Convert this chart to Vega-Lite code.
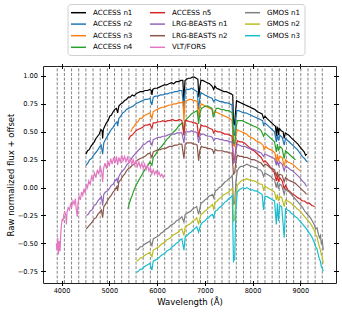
{
"$schema":"https://vega.github.io/schema/vega-lite/v6.json",
"width":293,"height":217,"autosize":"none",
"padding":{"left":43,"top":66,"right":6,"bottom":30},
"config":{"font":"DejaVu Sans","view":{"stroke":"#222","strokeWidth":1},
"axis":{"domain":false,"grid":false,"tickColor":"#000","tickSize":5,"offset":-2.5,"labelFontSize":6.6,"labelColor":"#000","labelOverlap":false,"labelFlush":false,"titleFontSize":8.5,"titleColor":"#000","titleFontWeight":"normal","labelFont":"DejaVu Sans","titleFont":"DejaVu Sans"}},
"datasets":{
"bins":[{"w":3910},{"w":4060},{"w":4210},{"w":4360},{"w":4510},{"w":4660},{"w":4810},{"w":4960},{"w":5110},{"w":5260},{"w":5410},{"w":5560},{"w":5710},{"w":5860},{"w":6010},{"w":6160},{"w":6310},{"w":6460},{"w":6610},{"w":6760},{"w":6910},{"w":7060},{"w":7210},{"w":7360},{"w":7510},{"w":7660},{"w":7810},{"w":7960},{"w":8110},{"w":8260},{"w":8410},{"w":8560},{"w":8710},{"w":8860},{"w":9010},{"w":9160},{"w":9310},{"w":9460}],
"a1":[{"w":4510,"f":0.30},{"w":4545,"f":0.33},{"w":4580,"f":0.34},{"w":4615,"f":0.37},{"w":4650,"f":0.39},{"w":4685,"f":0.41},{"w":4720,"f":0.44},{"w":4755,"f":0.46},{"w":4790,"f":0.48},{"w":4825,"f":0.52},{"w":4850,"f":0.51},{"w":4861,"f":0.44},{"w":4875,"f":0.52},{"w":4905,"f":0.55},{"w":4940,"f":0.58},{"w":4975,"f":0.60},{"w":5010,"f":0.64},{"w":5045,"f":0.65},{"w":5080,"f":0.68},{"w":5115,"f":0.70},{"w":5150,"f":0.71},{"w":5175,"f":0.67},{"w":5200,"f":0.73},{"w":5240,"f":0.75},{"w":5280,"f":0.76},{"w":5320,"f":0.78},{"w":5360,"f":0.79},{"w":5400,"f":0.81},{"w":5440,"f":0.81},{"w":5480,"f":0.83},{"w":5520,"f":0.82},{"w":5560,"f":0.84},{"w":5600,"f":0.85},{"w":5650,"f":0.86},{"w":5700,"f":0.86},{"w":5750,"f":0.87},{"w":5800,"f":0.87},{"w":5850,"f":0.88},{"w":5880,"f":0.87},{"w":5893,"f":0.83},{"w":5910,"f":0.88},{"w":5950,"f":0.89},{"w":6000,"f":0.89},{"w":6050,"f":0.90},{"w":6100,"f":0.91},{"w":6150,"f":0.92},{"w":6200,"f":0.92},{"w":6250,"f":0.93},{"w":6300,"f":0.94},{"w":6350,"f":0.93},{"w":6400,"f":0.95},{"w":6450,"f":0.95},{"w":6500,"f":0.96},{"w":6540,"f":0.96},{"w":6563,"f":0.77},{"w":6585,"f":0.96},{"w":6620,"f":0.97},{"w":6660,"f":0.98},{"w":6700,"f":0.98},{"w":6740,"f":0.99},{"w":6780,"f":0.99},{"w":6820,"f":0.98},{"w":6855,"f":0.97},{"w":6875,"f":0.81},{"w":6895,"f":0.90},{"w":6920,"f":0.96},{"w":6960,"f":0.96},{"w":7000,"f":0.95},{"w":7050,"f":0.94},{"w":7100,"f":0.93},{"w":7150,"f":0.91},{"w":7185,"f":0.88},{"w":7210,"f":0.91},{"w":7250,"f":0.89},{"w":7300,"f":0.88},{"w":7350,"f":0.87},{"w":7400,"f":0.86},{"w":7450,"f":0.86},{"w":7500,"f":0.85},{"w":7550,"f":0.84},{"w":7585,"f":0.83},{"w":7600,"f":0.58},{"w":7620,"f":0.56},{"w":7640,"f":0.66},{"w":7665,"f":0.78},{"w":7700,"f":0.77},{"w":7750,"f":0.76},{"w":7800,"f":0.75},{"w":7850,"f":0.74},{"w":7900,"f":0.73},{"w":7950,"f":0.72},{"w":8000,"f":0.71},{"w":8050,"f":0.70},{"w":8100,"f":0.68},{"w":8150,"f":0.67},{"w":8200,"f":0.66},{"w":8230,"f":0.62},{"w":8260,"f":0.64},{"w":8300,"f":0.62},{"w":8350,"f":0.60},{"w":8400,"f":0.58},{"w":8450,"f":0.56},{"w":8480,"f":0.55},{"w":8498,"f":0.46},{"w":8515,"f":0.54},{"w":8530,"f":0.53},{"w":8542,"f":0.47},{"w":8560,"f":0.53},{"w":8600,"f":0.51},{"w":8640,"f":0.50},{"w":8662,"f":0.44},{"w":8685,"f":0.49},{"w":8720,"f":0.48},{"w":8760,"f":0.47},{"w":8800,"f":0.45},{"w":8850,"f":0.43},{"w":8900,"f":0.41},{"w":8950,"f":0.39},{"w":9000,"f":0.36},{"w":9040,"f":0.34},{"w":9080,"f":0.32},{"w":9110,"f":0.29},{"w":9140,"f":0.30}],
"a2":[{"w":4510,"f":0.20},{"w":4550,"f":0.22},{"w":4590,"f":0.25},{"w":4630,"f":0.26},{"w":4670,"f":0.29},{"w":4710,"f":0.31},{"w":4750,"f":0.33},{"w":4790,"f":0.36},{"w":4830,"f":0.38},{"w":4861,"f":0.30},{"w":4885,"f":0.40},{"w":4920,"f":0.43},{"w":4960,"f":0.46},{"w":5000,"f":0.49},{"w":5040,"f":0.52},{"w":5080,"f":0.54},{"w":5120,"f":0.57},{"w":5160,"f":0.59},{"w":5175,"f":0.55},{"w":5200,"f":0.62},{"w":5240,"f":0.64},{"w":5280,"f":0.67},{"w":5320,"f":0.68},{"w":5360,"f":0.70},{"w":5400,"f":0.71},{"w":5450,"f":0.72},{"w":5500,"f":0.73},{"w":5550,"f":0.75},{"w":5600,"f":0.76},{"w":5650,"f":0.77},{"w":5700,"f":0.78},{"w":5750,"f":0.79},{"w":5800,"f":0.79},{"w":5850,"f":0.80},{"w":5893,"f":0.74},{"w":5920,"f":0.81},{"w":5970,"f":0.82},{"w":6020,"f":0.82},{"w":6070,"f":0.83},{"w":6120,"f":0.83},{"w":6170,"f":0.84},{"w":6220,"f":0.84},{"w":6270,"f":0.85},{"w":6320,"f":0.85},{"w":6370,"f":0.86},{"w":6420,"f":0.86},{"w":6470,"f":0.87},{"w":6520,"f":0.87},{"w":6563,"f":0.70},{"w":6590,"f":0.87},{"w":6630,"f":0.88},{"w":6680,"f":0.88},{"w":6720,"f":0.89},{"w":6760,"f":0.88},{"w":6800,"f":0.87},{"w":6840,"f":0.86},{"w":6870,"f":0.70},{"w":6895,"f":0.80},{"w":6920,"f":0.85},{"w":6960,"f":0.84},{"w":7000,"f":0.83},{"w":7050,"f":0.82},{"w":7100,"f":0.81},{"w":7150,"f":0.80},{"w":7185,"f":0.77},{"w":7220,"f":0.79},{"w":7270,"f":0.78},{"w":7320,"f":0.77},{"w":7370,"f":0.77},{"w":7420,"f":0.76},{"w":7470,"f":0.76},{"w":7520,"f":0.75},{"w":7570,"f":0.74},{"w":7600,"f":0.48},{"w":7625,"f":0.47},{"w":7645,"f":0.60},{"w":7670,"f":0.69},{"w":7710,"f":0.69},{"w":7760,"f":0.68},{"w":7810,"f":0.67},{"w":7860,"f":0.67},{"w":7910,"f":0.66},{"w":7960,"f":0.65},{"w":8010,"f":0.64},{"w":8060,"f":0.63},{"w":8110,"f":0.62},{"w":8160,"f":0.61},{"w":8210,"f":0.60},{"w":8230,"f":0.56},{"w":8260,"f":0.58},{"w":8310,"f":0.56},{"w":8360,"f":0.54},{"w":8410,"f":0.52},{"w":8460,"f":0.50},{"w":8498,"f":0.41},{"w":8520,"f":0.48},{"w":8542,"f":0.42},{"w":8570,"f":0.47},{"w":8620,"f":0.45},{"w":8662,"f":0.38},{"w":8690,"f":0.44},{"w":8740,"f":0.42},{"w":8790,"f":0.40},{"w":8840,"f":0.38},{"w":8890,"f":0.36},{"w":8940,"f":0.34},{"w":8990,"f":0.31},{"w":9040,"f":0.28},{"w":9090,"f":0.26},{"w":9140,"f":0.23}],
"a3":[{"w":5450,"f":0.50},{"w":5480,"f":0.53},{"w":5520,"f":0.55},{"w":5560,"f":0.58},{"w":5600,"f":0.59},{"w":5640,"f":0.62},{"w":5680,"f":0.62},{"w":5720,"f":0.64},{"w":5760,"f":0.65},{"w":5800,"f":0.66},{"w":5850,"f":0.67},{"w":5893,"f":0.62},{"w":5920,"f":0.68},{"w":5960,"f":0.69},{"w":6000,"f":0.70},{"w":6050,"f":0.71},{"w":6100,"f":0.72},{"w":6150,"f":0.72},{"w":6200,"f":0.73},{"w":6250,"f":0.74},{"w":6300,"f":0.74},{"w":6350,"f":0.75},{"w":6400,"f":0.75},{"w":6450,"f":0.76},{"w":6500,"f":0.76},{"w":6540,"f":0.77},{"w":6563,"f":0.60},{"w":6585,"f":0.77},{"w":6630,"f":0.78},{"w":6680,"f":0.79},{"w":6720,"f":0.79},{"w":6760,"f":0.78},{"w":6800,"f":0.78},{"w":6840,"f":0.77},{"w":6870,"f":0.62},{"w":6895,"f":0.72},{"w":6930,"f":0.75},{"w":6970,"f":0.74},{"w":7010,"f":0.73},{"w":7060,"f":0.72},{"w":7110,"f":0.71},{"w":7160,"f":0.70},{"w":7185,"f":0.66},{"w":7220,"f":0.68},{"w":7270,"f":0.67},{"w":7320,"f":0.66},{"w":7370,"f":0.65},{"w":7420,"f":0.64},{"w":7470,"f":0.63},{"w":7520,"f":0.62},{"w":7570,"f":0.60},{"w":7600,"f":0.38},{"w":7625,"f":0.37},{"w":7650,"f":0.46},{"w":7680,"f":0.52},{"w":7720,"f":0.51},{"w":7770,"f":0.50},{"w":7820,"f":0.49},{"w":7870,"f":0.48},{"w":7920,"f":0.46},{"w":7970,"f":0.45},{"w":8020,"f":0.44},{"w":8070,"f":0.42},{"w":8120,"f":0.41},{"w":8170,"f":0.40},{"w":8220,"f":0.38},{"w":8240,"f":0.34},{"w":8270,"f":0.37},{"w":8320,"f":0.35},{"w":8370,"f":0.34},{"w":8420,"f":0.33},{"w":8470,"f":0.31},{"w":8498,"f":0.22},{"w":8520,"f":0.30},{"w":8542,"f":0.24},{"w":8570,"f":0.28},{"w":8620,"f":0.27},{"w":8662,"f":0.19},{"w":8690,"f":0.25},{"w":8740,"f":0.23},{"w":8790,"f":0.22},{"w":8840,"f":0.21},{"w":8890,"f":0.19},{"w":8940,"f":0.17},{"w":9000,"f":0.15}],
"a4":[{"w":5390,"f":-0.19},{"w":5420,"f":-0.14},{"w":5450,"f":-0.10},{"w":5480,"f":-0.07},{"w":5510,"f":-0.03},{"w":5540,"f":0.0},{"w":5570,"f":0.03},{"w":5610,"f":0.06},{"w":5650,"f":0.09},{"w":5690,"f":0.12},{"w":5730,"f":0.15},{"w":5770,"f":0.18},{"w":5810,"f":0.20},{"w":5850,"f":0.23},{"w":5893,"f":0.20},{"w":5920,"f":0.27},{"w":5960,"f":0.29},{"w":6000,"f":0.32},{"w":6050,"f":0.35},{"w":6100,"f":0.37},{"w":6150,"f":0.40},{"w":6200,"f":0.43},{"w":6250,"f":0.45},{"w":6300,"f":0.48},{"w":6350,"f":0.50},{"w":6400,"f":0.52},{"w":6450,"f":0.55},{"w":6500,"f":0.57},{"w":6540,"f":0.58},{"w":6563,"f":0.47},{"w":6585,"f":0.60},{"w":6630,"f":0.62},{"w":6680,"f":0.64},{"w":6720,"f":0.66},{"w":6760,"f":0.67},{"w":6800,"f":0.68},{"w":6840,"f":0.69},{"w":6870,"f":0.57},{"w":6895,"f":0.66},{"w":6930,"f":0.71},{"w":6970,"f":0.72},{"w":7010,"f":0.73},{"w":7060,"f":0.73},{"w":7110,"f":0.72},{"w":7150,"f":0.71},{"w":7177,"f":0.63},{"w":7200,"f":0.66},{"w":7240,"f":0.71},{"w":7290,"f":0.71},{"w":7340,"f":0.70},{"w":7390,"f":0.70},{"w":7440,"f":0.69},{"w":7490,"f":0.69},{"w":7540,"f":0.68},{"w":7575,"f":0.67},{"w":7600,"f":0.40},{"w":7625,"f":0.39},{"w":7650,"f":0.52},{"w":7680,"f":0.60},{"w":7730,"f":0.60},{"w":7780,"f":0.60},{"w":7830,"f":0.59},{"w":7880,"f":0.58},{"w":7930,"f":0.57},{"w":7980,"f":0.56},{"w":8030,"f":0.55},{"w":8080,"f":0.54},{"w":8130,"f":0.53},{"w":8180,"f":0.51},{"w":8230,"f":0.46},{"w":8260,"f":0.49},{"w":8310,"f":0.47},{"w":8360,"f":0.45},{"w":8410,"f":0.43},{"w":8460,"f":0.41},{"w":8498,"f":0.32},{"w":8520,"f":0.39},{"w":8542,"f":0.33},{"w":8570,"f":0.37},{"w":8620,"f":0.35},{"w":8662,"f":0.26},{"w":8690,"f":0.33},{"w":8740,"f":0.31},{"w":8790,"f":0.29},{"w":8840,"f":0.27},{"w":8900,"f":0.25}],
"a5":[{"w":5400,"f":0.43},{"w":5440,"f":0.46},{"w":5480,"f":0.47},{"w":5520,"f":0.49},{"w":5560,"f":0.51},{"w":5600,"f":0.52},{"w":5650,"f":0.53},{"w":5700,"f":0.54},{"w":5750,"f":0.56},{"w":5800,"f":0.56},{"w":5850,"f":0.57},{"w":5893,"f":0.53},{"w":5920,"f":0.58},{"w":5970,"f":0.58},{"w":6020,"f":0.59},{"w":6070,"f":0.59},{"w":6120,"f":0.60},{"w":6170,"f":0.59},{"w":6220,"f":0.60},{"w":6270,"f":0.60},{"w":6320,"f":0.61},{"w":6370,"f":0.60},{"w":6420,"f":0.60},{"w":6470,"f":0.61},{"w":6520,"f":0.60},{"w":6563,"f":0.47},{"w":6590,"f":0.60},{"w":6630,"f":0.60},{"w":6680,"f":0.59},{"w":6720,"f":0.59},{"w":6760,"f":0.58},{"w":6800,"f":0.58},{"w":6840,"f":0.57},{"w":6870,"f":0.45},{"w":6895,"f":0.52},{"w":6930,"f":0.56},{"w":6970,"f":0.55},{"w":7010,"f":0.55},{"w":7060,"f":0.54},{"w":7110,"f":0.53},{"w":7160,"f":0.52},{"w":7185,"f":0.49},{"w":7220,"f":0.51},{"w":7270,"f":0.50},{"w":7320,"f":0.50},{"w":7370,"f":0.49},{"w":7420,"f":0.48},{"w":7470,"f":0.48},{"w":7520,"f":0.47},{"w":7570,"f":0.46},{"w":7600,"f":0.25},{"w":7625,"f":0.25},{"w":7650,"f":0.35},{"w":7680,"f":0.42},{"w":7730,"f":0.41},{"w":7780,"f":0.41},{"w":7830,"f":0.40},{"w":7880,"f":0.38},{"w":7930,"f":0.36},{"w":7980,"f":0.34},{"w":8030,"f":0.33},{"w":8080,"f":0.31},{"w":8130,"f":0.29},{"w":8180,"f":0.27},{"w":8230,"f":0.23},{"w":8260,"f":0.24},{"w":8310,"f":0.22},{"w":8360,"f":0.19},{"w":8410,"f":0.16},{"w":8450,"f":0.14},{"w":8498,"f":0.06},{"w":8520,"f":0.11},{"w":8542,"f":0.05},{"w":8570,"f":0.09},{"w":8620,"f":0.06},{"w":8662,"f":-0.01},{"w":8690,"f":0.02},{"w":8740,"f":-0.02},{"w":8790,"f":-0.04},{"w":8840,"f":-0.06},{"w":8890,"f":-0.07},{"w":8940,"f":-0.09},{"w":8990,"f":-0.10},{"w":9040,"f":-0.12},{"w":9090,"f":-0.12},{"w":9140,"f":-0.14},{"w":9190,"f":-0.14},{"w":9240,"f":-0.16},{"w":9300,"f":-0.17}],
"l1":[{"w":4520,"f":-0.25},{"w":4560,"f":-0.24},{"w":4600,"f":-0.21},{"w":4640,"f":-0.20},{"w":4680,"f":-0.16},{"w":4720,"f":-0.15},{"w":4760,"f":-0.12},{"w":4800,"f":-0.10},{"w":4835,"f":-0.08},{"w":4861,"f":-0.16},{"w":4885,"f":-0.06},{"w":4920,"f":-0.04},{"w":4960,"f":-0.03},{"w":5000,"f":-0.01},{"w":5040,"f":0.02},{"w":5080,"f":0.03},{"w":5120,"f":0.06},{"w":5160,"f":0.08},{"w":5175,"f":0.04},{"w":5200,"f":0.10},{"w":5240,"f":0.13},{"w":5280,"f":0.15},{"w":5320,"f":0.17},{"w":5360,"f":0.20},{"w":5400,"f":0.22},{"w":5440,"f":0.24},{"w":5480,"f":0.27},{"w":5520,"f":0.29},{"w":5560,"f":0.31},{"w":5600,"f":0.33},{"w":5650,"f":0.35},{"w":5700,"f":0.38},{"w":5750,"f":0.39},{"w":5800,"f":0.41},{"w":5850,"f":0.42},{"w":5893,"f":0.38},{"w":5920,"f":0.43},{"w":5970,"f":0.44},{"w":6020,"f":0.45},{"w":6070,"f":0.45},{"w":6120,"f":0.46},{"w":6170,"f":0.46},{"w":6220,"f":0.47},{"w":6270,"f":0.48},{"w":6320,"f":0.48},{"w":6370,"f":0.48},{"w":6420,"f":0.49},{"w":6470,"f":0.49},{"w":6520,"f":0.49},{"w":6563,"f":0.40},{"w":6590,"f":0.50},{"w":6630,"f":0.50},{"w":6680,"f":0.50},{"w":6720,"f":0.51},{"w":6760,"f":0.50},{"w":6800,"f":0.50},{"w":6840,"f":0.49},{"w":6870,"f":0.40},{"w":6895,"f":0.46},{"w":6930,"f":0.48},{"w":6970,"f":0.48},{"w":7010,"f":0.47},{"w":7060,"f":0.46},{"w":7110,"f":0.46},{"w":7160,"f":0.45},{"w":7185,"f":0.42},{"w":7220,"f":0.44},{"w":7270,"f":0.44},{"w":7320,"f":0.43},{"w":7370,"f":0.43},{"w":7420,"f":0.42},{"w":7470,"f":0.42},{"w":7520,"f":0.41},{"w":7570,"f":0.41},{"w":7600,"f":0.22},{"w":7625,"f":0.23},{"w":7650,"f":0.33},{"w":7680,"f":0.39},{"w":7730,"f":0.38},{"w":7780,"f":0.37},{"w":7830,"f":0.37},{"w":7880,"f":0.36},{"w":7930,"f":0.35},{"w":7980,"f":0.35},{"w":8030,"f":0.34},{"w":8080,"f":0.33},{"w":8130,"f":0.32},{"w":8180,"f":0.31},{"w":8230,"f":0.28},{"w":8260,"f":0.30},{"w":8310,"f":0.29},{"w":8360,"f":0.28},{"w":8410,"f":0.27},{"w":8460,"f":0.26},{"w":8498,"f":0.20},{"w":8520,"f":0.24},{"w":8542,"f":0.20},{"w":8570,"f":0.23},{"w":8620,"f":0.21},{"w":8662,"f":0.15},{"w":8690,"f":0.19},{"w":8740,"f":0.18},{"w":8790,"f":0.16},{"w":8840,"f":0.15},{"w":8890,"f":0.13},{"w":8940,"f":0.11},{"w":8990,"f":0.09},{"w":9040,"f":0.06},{"w":9090,"f":0.04},{"w":9130,"f":0.01}],
"l2":[{"w":4520,"f":-0.37},{"w":4560,"f":-0.35},{"w":4600,"f":-0.33},{"w":4640,"f":-0.31},{"w":4680,"f":-0.28},{"w":4720,"f":-0.27},{"w":4760,"f":-0.24},{"w":4800,"f":-0.22},{"w":4835,"f":-0.20},{"w":4861,"f":-0.27},{"w":4885,"f":-0.17},{"w":4920,"f":-0.15},{"w":4960,"f":-0.12},{"w":5000,"f":-0.09},{"w":5040,"f":-0.07},{"w":5080,"f":-0.04},{"w":5120,"f":-0.02},{"w":5160,"f":0.01},{"w":5175,"f":-0.03},{"w":5200,"f":0.05},{"w":5240,"f":0.07},{"w":5280,"f":0.10},{"w":5320,"f":0.12},{"w":5360,"f":0.15},{"w":5400,"f":0.17},{"w":5440,"f":0.18},{"w":5480,"f":0.20},{"w":5520,"f":0.21},{"w":5560,"f":0.23},{"w":5600,"f":0.25},{"w":5650,"f":0.26},{"w":5700,"f":0.27},{"w":5750,"f":0.28},{"w":5800,"f":0.30},{"w":5850,"f":0.31},{"w":5893,"f":0.27},{"w":5920,"f":0.32},{"w":5970,"f":0.33},{"w":6020,"f":0.34},{"w":6070,"f":0.34},{"w":6120,"f":0.35},{"w":6170,"f":0.35},{"w":6220,"f":0.36},{"w":6270,"f":0.37},{"w":6320,"f":0.37},{"w":6370,"f":0.38},{"w":6420,"f":0.38},{"w":6470,"f":0.39},{"w":6520,"f":0.39},{"w":6563,"f":0.26},{"w":6590,"f":0.39},{"w":6630,"f":0.40},{"w":6680,"f":0.40},{"w":6720,"f":0.40},{"w":6760,"f":0.39},{"w":6800,"f":0.39},{"w":6840,"f":0.38},{"w":6870,"f":0.24},{"w":6895,"f":0.33},{"w":6930,"f":0.37},{"w":6970,"f":0.36},{"w":7010,"f":0.36},{"w":7060,"f":0.35},{"w":7110,"f":0.35},{"w":7160,"f":0.34},{"w":7185,"f":0.31},{"w":7220,"f":0.34},{"w":7270,"f":0.33},{"w":7320,"f":0.33},{"w":7370,"f":0.33},{"w":7420,"f":0.32},{"w":7470,"f":0.32},{"w":7520,"f":0.31},{"w":7570,"f":0.31},{"w":7600,"f":0.12},{"w":7625,"f":0.13},{"w":7650,"f":0.23},{"w":7680,"f":0.29},{"w":7730,"f":0.28},{"w":7780,"f":0.28},{"w":7830,"f":0.27},{"w":7880,"f":0.27},{"w":7930,"f":0.26},{"w":7980,"f":0.25},{"w":8030,"f":0.25},{"w":8080,"f":0.24},{"w":8130,"f":0.23},{"w":8180,"f":0.22},{"w":8230,"f":0.19},{"w":8260,"f":0.21},{"w":8310,"f":0.20},{"w":8360,"f":0.18},{"w":8410,"f":0.17},{"w":8460,"f":0.16},{"w":8498,"f":0.10},{"w":8520,"f":0.14},{"w":8542,"f":0.10},{"w":8570,"f":0.12},{"w":8620,"f":0.11},{"w":8662,"f":0.05},{"w":8690,"f":0.09},{"w":8740,"f":0.07},{"w":8790,"f":0.06},{"w":8840,"f":0.05},{"w":8890,"f":0.04},{"w":8940,"f":0.02},{"w":8990,"f":0.0},{"w":9040,"f":-0.02},{"w":9090,"f":-0.04},{"w":9130,"f":-0.06}],
"v":[{"w":3890,"f":-0.50},{"w":3905,"f":-0.56},{"w":3920,"f":-0.45},{"w":3935,"f":-0.60},{"w":3950,"f":-0.48},{"w":3968,"f":-0.57},{"w":3985,"f":-0.40},{"w":4000,"f":-0.33},{"w":4015,"f":-0.28},{"w":4030,"f":-0.30},{"w":4050,"f":-0.24},{"w":4070,"f":-0.22},{"w":4090,"f":-0.25},{"w":4102,"f":-0.33},{"w":4115,"f":-0.22},{"w":4140,"f":-0.18},{"w":4165,"f":-0.20},{"w":4190,"f":-0.15},{"w":4215,"f":-0.17},{"w":4240,"f":-0.12},{"w":4265,"f":-0.15},{"w":4290,"f":-0.10},{"w":4310,"f":-0.20},{"w":4330,"f":-0.26},{"w":4345,"f":-0.14},{"w":4370,"f":-0.08},{"w":4395,"f":-0.11},{"w":4420,"f":-0.04},{"w":4445,"f":-0.07},{"w":4470,"f":-0.01},{"w":4495,"f":-0.05},{"w":4520,"f":0.03},{"w":4545,"f":0.0},{"w":4570,"f":0.06},{"w":4600,"f":0.03},{"w":4630,"f":0.10},{"w":4660,"f":0.07},{"w":4690,"f":0.13},{"w":4720,"f":0.09},{"w":4750,"f":0.16},{"w":4780,"f":0.12},{"w":4810,"f":0.19},{"w":4840,"f":0.14},{"w":4861,"f":0.05},{"w":4880,"f":0.17},{"w":4910,"f":0.22},{"w":4940,"f":0.17},{"w":4970,"f":0.24},{"w":5000,"f":0.19},{"w":5030,"f":0.26},{"w":5060,"f":0.21},{"w":5090,"f":0.27},{"w":5120,"f":0.22},{"w":5150,"f":0.28},{"w":5175,"f":0.20},{"w":5200,"f":0.27},{"w":5230,"f":0.23},{"w":5260,"f":0.29},{"w":5290,"f":0.24},{"w":5320,"f":0.28},{"w":5350,"f":0.23},{"w":5380,"f":0.27},{"w":5410,"f":0.22},{"w":5440,"f":0.26},{"w":5470,"f":0.21},{"w":5500,"f":0.25},{"w":5530,"f":0.20},{"w":5560,"f":0.24},{"w":5590,"f":0.19},{"w":5620,"f":0.23},{"w":5650,"f":0.18},{"w":5680,"f":0.22},{"w":5710,"f":0.17},{"w":5740,"f":0.21},{"w":5770,"f":0.16},{"w":5800,"f":0.20},{"w":5830,"f":0.15},{"w":5860,"f":0.18},{"w":5890,"f":0.12},{"w":5920,"f":0.16},{"w":5950,"f":0.12},{"w":5980,"f":0.15},{"w":6010,"f":0.11},{"w":6040,"f":0.14},{"w":6070,"f":0.10},{"w":6100,"f":0.12},{"w":6130,"f":0.09},{"w":6150,"f":0.11}],
"g1":[{"w":5570,"f":-0.56},{"w":5610,"f":-0.55},{"w":5650,"f":-0.53},{"w":5690,"f":-0.53},{"w":5730,"f":-0.51},{"w":5770,"f":-0.50},{"w":5810,"f":-0.49},{"w":5850,"f":-0.48},{"w":5893,"f":-0.52},{"w":5920,"f":-0.46},{"w":5960,"f":-0.45},{"w":6000,"f":-0.44},{"w":6040,"f":-0.43},{"w":6080,"f":-0.41},{"w":6120,"f":-0.40},{"w":6160,"f":-0.38},{"w":6200,"f":-0.37},{"w":6240,"f":-0.36},{"w":6280,"f":-0.34},{"w":6320,"f":-0.33},{"w":6360,"f":-0.32},{"w":6400,"f":-0.30},{"w":6440,"f":-0.29},{"w":6480,"f":-0.28},{"w":6520,"f":-0.26},{"w":6563,"f":-0.31},{"w":6590,"f":-0.24},{"w":6630,"f":-0.23},{"w":6670,"f":-0.22},{"w":6710,"f":-0.21},{"w":6750,"f":-0.19},{"w":6790,"f":-0.18},{"w":6830,"f":-0.17},{"w":6870,"f":-0.24},{"w":6895,"f":-0.19},{"w":6920,"f":-0.14},{"w":6960,"f":-0.13},{"w":7000,"f":-0.11},{"w":7040,"f":-0.10},{"w":7080,"f":-0.08},{"w":7120,"f":-0.07},{"w":7160,"f":-0.06},{"w":7185,"f":-0.09},{"w":7220,"f":-0.03},{"w":7260,"f":-0.02},{"w":7300,"f":0.0},{"w":7340,"f":0.01},{"w":7380,"f":0.03},{"w":7420,"f":0.05},{"w":7460,"f":0.06},{"w":7500,"f":0.08},{"w":7540,"f":0.09},{"w":7575,"f":0.11},{"w":7600,"f":-0.15},{"w":7625,"f":-0.14},{"w":7650,"f":0.05},{"w":7680,"f":0.15},{"w":7720,"f":0.18},{"w":7760,"f":0.19},{"w":7800,"f":0.19},{"w":7840,"f":0.20},{"w":7880,"f":0.21},{"w":7920,"f":0.20},{"w":7960,"f":0.19},{"w":8000,"f":0.19},{"w":8040,"f":0.18},{"w":8080,"f":0.18},{"w":8120,"f":0.16},{"w":8160,"f":0.16},{"w":8200,"f":0.14},{"w":8230,"f":0.10},{"w":8260,"f":0.13},{"w":8300,"f":0.12},{"w":8340,"f":0.11},{"w":8380,"f":0.10},{"w":8420,"f":0.08},{"w":8460,"f":0.07},{"w":8498,"f":0.0},{"w":8520,"f":0.05},{"w":8542,"f":-0.01},{"w":8570,"f":0.03},{"w":8610,"f":0.02},{"w":8662,"f":-0.06},{"w":8690,"f":-0.01},{"w":8730,"f":-0.03},{"w":8770,"f":-0.04},{"w":8810,"f":-0.06},{"w":8850,"f":-0.08},{"w":8890,"f":-0.10},{"w":8930,"f":-0.12},{"w":8970,"f":-0.14},{"w":9010,"f":-0.16},{"w":9050,"f":-0.18},{"w":9090,"f":-0.21},{"w":9130,"f":-0.23},{"w":9170,"f":-0.25},{"w":9210,"f":-0.27},{"w":9250,"f":-0.30},{"w":9290,"f":-0.33},{"w":9320,"f":-0.37},{"w":9350,"f":-0.36},{"w":9380,"f":-0.42},{"w":9400,"f":-0.45},{"w":9420,"f":-0.43},{"w":9440,"f":-0.50},{"w":9460,"f":-0.48},{"w":9480,"f":-0.56}],
"g2":[{"w":5570,"f":-0.66},{"w":5610,"f":-0.65},{"w":5650,"f":-0.63},{"w":5690,"f":-0.63},{"w":5730,"f":-0.61},{"w":5770,"f":-0.60},{"w":5810,"f":-0.59},{"w":5850,"f":-0.58},{"w":5893,"f":-0.62},{"w":5920,"f":-0.56},{"w":5960,"f":-0.55},{"w":6000,"f":-0.54},{"w":6040,"f":-0.53},{"w":6080,"f":-0.51},{"w":6120,"f":-0.50},{"w":6160,"f":-0.49},{"w":6200,"f":-0.47},{"w":6240,"f":-0.46},{"w":6280,"f":-0.45},{"w":6320,"f":-0.43},{"w":6360,"f":-0.42},{"w":6400,"f":-0.41},{"w":6440,"f":-0.40},{"w":6480,"f":-0.38},{"w":6520,"f":-0.37},{"w":6563,"f":-0.43},{"w":6590,"f":-0.35},{"w":6630,"f":-0.34},{"w":6670,"f":-0.33},{"w":6710,"f":-0.32},{"w":6750,"f":-0.30},{"w":6790,"f":-0.29},{"w":6830,"f":-0.27},{"w":6870,"f":-0.33},{"w":6895,"f":-0.28},{"w":6920,"f":-0.24},{"w":6960,"f":-0.23},{"w":7000,"f":-0.21},{"w":7040,"f":-0.20},{"w":7080,"f":-0.18},{"w":7120,"f":-0.17},{"w":7160,"f":-0.15},{"w":7185,"f":-0.19},{"w":7220,"f":-0.13},{"w":7260,"f":-0.12},{"w":7300,"f":-0.10},{"w":7340,"f":-0.09},{"w":7380,"f":-0.07},{"w":7420,"f":-0.06},{"w":7460,"f":-0.05},{"w":7500,"f":-0.04},{"w":7540,"f":-0.02},{"w":7575,"f":-0.01},{"w":7600,"f":-0.30},{"w":7625,"f":-0.29},{"w":7650,"f":-0.08},{"w":7680,"f":0.02},{"w":7720,"f":0.04},{"w":7760,"f":0.06},{"w":7800,"f":0.07},{"w":7840,"f":0.07},{"w":7880,"f":0.08},{"w":7920,"f":0.07},{"w":7960,"f":0.07},{"w":8000,"f":0.06},{"w":8040,"f":0.06},{"w":8080,"f":0.05},{"w":8120,"f":0.04},{"w":8160,"f":0.03},{"w":8200,"f":0.03},{"w":8230,"f":-0.02},{"w":8260,"f":0.01},{"w":8300,"f":0.0},{"w":8340,"f":-0.01},{"w":8380,"f":-0.02},{"w":8420,"f":-0.03},{"w":8460,"f":-0.04},{"w":8498,"f":-0.11},{"w":8520,"f":-0.06},{"w":8542,"f":-0.12},{"w":8570,"f":-0.08},{"w":8610,"f":-0.09},{"w":8662,"f":-0.17},{"w":8690,"f":-0.11},{"w":8730,"f":-0.12},{"w":8770,"f":-0.13},{"w":8810,"f":-0.14},{"w":8850,"f":-0.16},{"w":8890,"f":-0.17},{"w":8930,"f":-0.19},{"w":8970,"f":-0.20},{"w":9010,"f":-0.22},{"w":9050,"f":-0.24},{"w":9090,"f":-0.26},{"w":9130,"f":-0.28},{"w":9170,"f":-0.30},{"w":9210,"f":-0.32},{"w":9250,"f":-0.35},{"w":9290,"f":-0.38},{"w":9320,"f":-0.42},{"w":9350,"f":-0.44},{"w":9380,"f":-0.50},{"w":9400,"f":-0.53},{"w":9420,"f":-0.56},{"w":9440,"f":-0.60},{"w":9460,"f":-0.62},{"w":9480,"f":-0.68}],
"g3":[{"w":5570,"f":-0.76},{"w":5610,"f":-0.75},{"w":5650,"f":-0.73},{"w":5690,"f":-0.73},{"w":5730,"f":-0.71},{"w":5770,"f":-0.70},{"w":5810,"f":-0.69},{"w":5850,"f":-0.68},{"w":5893,"f":-0.74},{"w":5920,"f":-0.66},{"w":5960,"f":-0.65},{"w":6000,"f":-0.64},{"w":6040,"f":-0.63},{"w":6080,"f":-0.61},{"w":6120,"f":-0.60},{"w":6160,"f":-0.59},{"w":6200,"f":-0.57},{"w":6240,"f":-0.56},{"w":6280,"f":-0.55},{"w":6320,"f":-0.53},{"w":6360,"f":-0.52},{"w":6400,"f":-0.50},{"w":6440,"f":-0.49},{"w":6480,"f":-0.47},{"w":6520,"f":-0.46},{"w":6563,"f":-0.56},{"w":6590,"f":-0.44},{"w":6630,"f":-0.43},{"w":6670,"f":-0.41},{"w":6710,"f":-0.40},{"w":6750,"f":-0.38},{"w":6790,"f":-0.37},{"w":6830,"f":-0.35},{"w":6870,"f":-0.40},{"w":6895,"f":-0.36},{"w":6920,"f":-0.33},{"w":6960,"f":-0.31},{"w":7000,"f":-0.30},{"w":7040,"f":-0.28},{"w":7080,"f":-0.27},{"w":7120,"f":-0.25},{"w":7160,"f":-0.24},{"w":7185,"f":-0.27},{"w":7220,"f":-0.21},{"w":7260,"f":-0.20},{"w":7300,"f":-0.18},{"w":7340,"f":-0.17},{"w":7380,"f":-0.15},{"w":7420,"f":-0.13},{"w":7460,"f":-0.12},{"w":7500,"f":-0.10},{"w":7540,"f":-0.09},{"w":7575,"f":-0.07},{"w":7600,"f":-0.66},{"w":7625,"f":-0.64},{"w":7650,"f":-0.20},{"w":7680,"f":-0.04},{"w":7720,"f":-0.02},{"w":7760,"f":-0.01},{"w":7800,"f":0.0},{"w":7840,"f":-0.01},{"w":7880,"f":0.0},{"w":7920,"f":-0.01},{"w":7960,"f":-0.02},{"w":8000,"f":-0.02},{"w":8040,"f":-0.03},{"w":8080,"f":-0.03},{"w":8120,"f":-0.04},{"w":8160,"f":-0.05},{"w":8200,"f":-0.06},{"w":8230,"f":-0.20},{"w":8260,"f":-0.08},{"w":8300,"f":-0.08},{"w":8340,"f":-0.09},{"w":8380,"f":-0.10},{"w":8420,"f":-0.11},{"w":8460,"f":-0.12},{"w":8498,"f":-0.33},{"w":8520,"f":-0.14},{"w":8542,"f":-0.30},{"w":8570,"f":-0.16},{"w":8610,"f":-0.17},{"w":8662,"f":-0.45},{"w":8690,"f":-0.19},{"w":8730,"f":-0.20},{"w":8770,"f":-0.21},{"w":8810,"f":-0.23},{"w":8850,"f":-0.24},{"w":8890,"f":-0.26},{"w":8930,"f":-0.27},{"w":8970,"f":-0.29},{"w":9010,"f":-0.31},{"w":9050,"f":-0.33},{"w":9090,"f":-0.35},{"w":9130,"f":-0.37},{"w":9170,"f":-0.40},{"w":9210,"f":-0.42},{"w":9250,"f":-0.45},{"w":9290,"f":-0.49},{"w":9320,"f":-0.53},{"w":9350,"f":-0.55},{"w":9380,"f":-0.61},{"w":9400,"f":-0.64},{"w":9420,"f":-0.66},{"w":9440,"f":-0.71},{"w":9460,"f":-0.72},{"w":9480,"f":-0.75}]
},
"layer":[
{"data":{"name":"bins"},
 "mark":{"type":"rule","stroke":"#666","strokeWidth":0.8,"strokeDash":[3,1.6]},
 "encoding":{
  "x":{"field":"w","type":"quantitative","scale":{"domain":[3612,9747],"nice":false,"zero":false},
       "axis":{"orient":"top","values":[4000,5000,6000,7000,8000,9000],"labels":false,"title":null}},
  "y":{"datum":-0.855,"type":"quantitative","scale":{"domain":[-0.855,1.0896],"nice":false,"zero":false},
       "axis":{"orient":"right","values":[-0.75,-0.5,-0.25,0,0.25,0.5,0.75,1],"labels":false,"title":null}},
  "y2":{"datum":1.0896}}},
{"data":{"name":"a1"},"mark":{"type":"line","strokeWidth":1.2},
  "encoding":{
   "x":{"field":"w","type":"quantitative","scale":{"domain":[3612,9747],"nice":false,"zero":false},
        "axis":{"orient":"bottom","values":[4000,5000,6000,7000,8000,9000],"format":"d","title":"Wavelength (Å)","labelPadding":2,"titlePadding":3.5,"labelOverlap":false}},
   "y":{"field":"f","type":"quantitative","scale":{"domain":[-0.855,1.0896],"nice":false,"zero":false},
        "axis":{"orient":"left","values":[-0.75,-0.5,-0.25,0,0.25,0.5,0.75,1],"format":".2f","title":"Raw normalized flux + offset","labelPadding":3,"titlePadding":1.5,"labelOverlap":false}},
   "color":{"datum":"ACCESS n1","type":"nominal",
     "scale":{"domain":["ACCESS n1","ACCESS n2","ACCESS n3","ACCESS n4","ACCESS n5","LRG-BEASTS n1","LRG-BEASTS n2","VLT/FORS","GMOS n1","GMOS n2","GMOS n3"],
              "range":["#000000","#1f77b4","#ff7f0e","#2ca02c","#d62728","#9467bd","#8c564b","#e377c2","#7f7f7f","#bcbd22","#17becf"]},
     "legend":{"orient":"none","legendX":24.5,"legendY":-62,"columns":3,"title":null,"symbolType":"M-2,0H2","symbolSize":56.25,"symbolStrokeWidth":1.5,"symbolOffset":2.5,"labelFontSize":7.1,"labelColor":"#000","labelOffset":10,"rowPadding":3.6,"columnPadding":14,"padding":4,"strokeColor":"#d0d0d0","fillColor":"#ffffff","cornerRadius":3,"labelLimit":200}}}},
{"data":{"name":"a2"},"mark":{"type":"line","strokeWidth":1.2},"encoding":{"x":{"field":"w","type":"quantitative","axis":null},"y":{"field":"f","type":"quantitative","axis":null},"color":{"datum":"ACCESS n2"}}},
{"data":{"name":"a3"},"mark":{"type":"line","strokeWidth":1.2},"encoding":{"x":{"field":"w","type":"quantitative","axis":null},"y":{"field":"f","type":"quantitative","axis":null},"color":{"datum":"ACCESS n3"}}},
{"data":{"name":"a4"},"mark":{"type":"line","strokeWidth":1.2},"encoding":{"x":{"field":"w","type":"quantitative","axis":null},"y":{"field":"f","type":"quantitative","axis":null},"color":{"datum":"ACCESS n4"}}},
{"data":{"name":"a5"},"mark":{"type":"line","strokeWidth":1.2},"encoding":{"x":{"field":"w","type":"quantitative","axis":null},"y":{"field":"f","type":"quantitative","axis":null},"color":{"datum":"ACCESS n5"}}},
{"data":{"name":"l1"},"mark":{"type":"line","strokeWidth":1.2},"encoding":{"x":{"field":"w","type":"quantitative","axis":null},"y":{"field":"f","type":"quantitative","axis":null},"color":{"datum":"LRG-BEASTS n1"}}},
{"data":{"name":"l2"},"mark":{"type":"line","strokeWidth":1.2},"encoding":{"x":{"field":"w","type":"quantitative","axis":null},"y":{"field":"f","type":"quantitative","axis":null},"color":{"datum":"LRG-BEASTS n2"}}},
{"data":{"name":"v"},"mark":{"type":"line","strokeWidth":1.2},"encoding":{"x":{"field":"w","type":"quantitative","axis":null},"y":{"field":"f","type":"quantitative","axis":null},"color":{"datum":"VLT/FORS"}}},
{"data":{"name":"g1"},"mark":{"type":"line","strokeWidth":1.2},"encoding":{"x":{"field":"w","type":"quantitative","axis":null},"y":{"field":"f","type":"quantitative","axis":null},"color":{"datum":"GMOS n1"}}},
{"data":{"name":"g2"},"mark":{"type":"line","strokeWidth":1.2},"encoding":{"x":{"field":"w","type":"quantitative","axis":null},"y":{"field":"f","type":"quantitative","axis":null},"color":{"datum":"GMOS n2"}}},
{"data":{"name":"g3"},"mark":{"type":"line","strokeWidth":1.2},"encoding":{"x":{"field":"w","type":"quantitative","axis":null},"y":{"field":"f","type":"quantitative","axis":null},"color":{"datum":"GMOS n3"}}}
],
"resolve":{"axis":{"x":"independent","y":"independent"}}
}
